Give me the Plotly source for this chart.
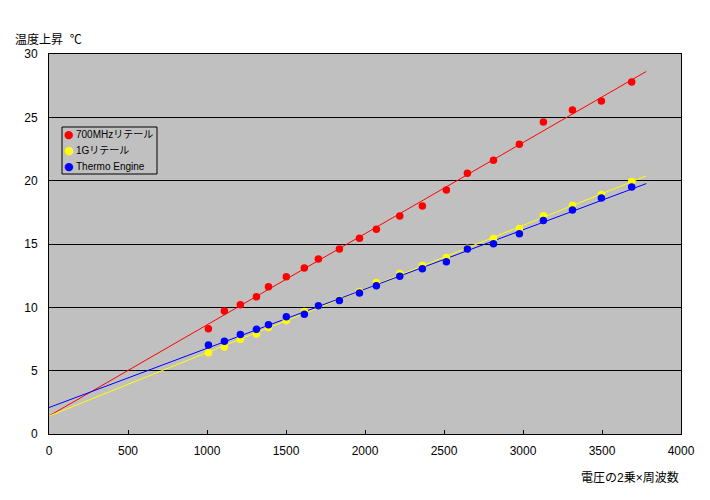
import numpy as np
import plotly.graph_objects as go

# Data
x_vals = [1009, 1110, 1211, 1313, 1389, 1502, 1616, 1705, 1838, 1965, 2072,
          2220, 2363, 2515, 2648, 2813, 2977, 3129, 3313, 3496, 3688]
red_700mhz = [8.30, 9.72, 10.20, 10.83, 11.62, 12.41, 13.11, 13.82, 14.60, 15.46, 16.17,
              17.22, 18.00, 19.27, 20.58, 21.61, 22.87, 24.63, 25.58, 26.29, 27.78]
yellow_1g = [6.41, 6.86, 7.49, 7.89, 8.40, 8.97, 9.68, 10.10, 10.59, 11.25, 11.96,
             12.67, 13.30, 13.94, 14.67, 15.43, 16.22, 17.23, 18.04, 18.90, 19.93]
blue_thermo = [7.02, 7.33, 7.86, 8.26, 8.62, 9.25, 9.46, 10.12, 10.54, 11.14, 11.70,
               12.46, 13.04, 13.59, 14.61, 15.01, 15.80, 16.85, 17.69, 18.64, 19.50]

series_names = ["700MHzリテール", "1Gリテール", "Thermo Engine"]
series_vals = [red_700mhz, yellow_1g, blue_thermo]
series_colors = ["#ff0000", "#ffff00", "#0000ff"]

x_ticks = [0, 500, 1000, 1500, 2000, 2500, 3000, 3500, 4000]
y_ticks = [0, 5, 10, 15, 20, 25, 30]
trend_range = [0, 3780]

FONT = "Liberation Sans, Noto Sans CJK JP, sans-serif"
PW, PH = 632, 380  # plot area size in px

fig = go.Figure()

# linear trendlines (least squares) drawn first
xt = np.array(trend_range, dtype=float)
for name, vals, col in zip(series_names, series_vals, series_colors):
    k, b = np.polyfit(np.array(x_vals, float), np.array(vals, float), 1)
    fig.add_trace(go.Scatter(x=xt, y=k * xt + b, mode="lines",
                             line=dict(color=col, width=1),
                             showlegend=False, hoverinfo="skip"))

for name, vals, col in zip(series_names, series_vals, series_colors):
    fig.add_trace(go.Scatter(x=x_vals, y=vals, mode="markers", name=name,
                             showlegend=False,
                             marker=dict(color=col, size=7.5, line=dict(width=0))))

# compact legend box like the original (drawn as layout items)
legend_items_y = [134.7, 150.7, 166.0]  # px from top of figure
annotations = []
for name, col, py in zip(series_names, series_colors, legend_items_y):
    yp = 1 - (py - 54) / PH
    annotations.append(dict(text="●", xref="paper", yref="paper",
                            x=(68.5 - 49) / PW, y=yp, xanchor="center",
                            yanchor="middle", showarrow=False,
                            font=dict(size=11, color=col,
                                      family="DejaVu Sans, sans-serif")))
    annotations.append(dict(text=name, xref="paper", yref="paper",
                            x=(74 - 49) / PW, y=yp, xanchor="left",
                            yanchor="middle", showarrow=False,
                            font=dict(size=10, family=FONT)))

annotations += [
    dict(text="温度上昇  ℃", xref="paper", yref="paper",
         x=-36 / PW, y=1 + 14 / PH, xanchor="left", yanchor="middle",
         showarrow=False, font=dict(size=12, family=FONT)),
    dict(text="電圧の2乗×周波数", xref="paper", yref="paper",
         x=1.0, y=-43 / PH, xanchor="right", yanchor="middle",
         showarrow=False, font=dict(size=12, family=FONT)),
]

fig.update_layout(
    width=710, height=500,
    margin=dict(l=49, r=29, t=54, b=66),
    paper_bgcolor="#ffffff",
    plot_bgcolor="#c0c0c0",
    font=dict(family=FONT, size=12, color="#000000"),
    showlegend=False,
    xaxis=dict(range=[0, 4000], tickvals=x_ticks, ticks="inside", ticklen=4,
               tickcolor="#000000", showgrid=False, zeroline=False,
               showline=True, linecolor="#000000", linewidth=1, mirror=True,
               tickfont=dict(size=12), automargin=False, ticklabelstandoff=6),
    yaxis=dict(range=[0, 30], tickvals=y_ticks, ticks="inside", ticklen=4,
               tickcolor="#000000", showgrid=True, gridcolor="#000000",
               gridwidth=1, zeroline=False, showline=True,
               linecolor="#000000", linewidth=1, mirror=True,
               tickfont=dict(size=12), ticklabelstandoff=8, automargin=False),
    shapes=[dict(type="rect", xref="paper", yref="paper",
                 x0=(62 - 49) / PW, x1=(157 - 49) / PW,
                 y0=1 - (174 - 54) / PH, y1=1 - (127 - 54) / PH,
                 line=dict(color="#000000", width=1), fillcolor="#c0c0c0",
                 layer="above")],
    annotations=annotations,
)

fig.write_html("out.html", config={"displayModeBar": False},
               post_script="document.body.style.margin='0';document.body.style.padding='0';")
